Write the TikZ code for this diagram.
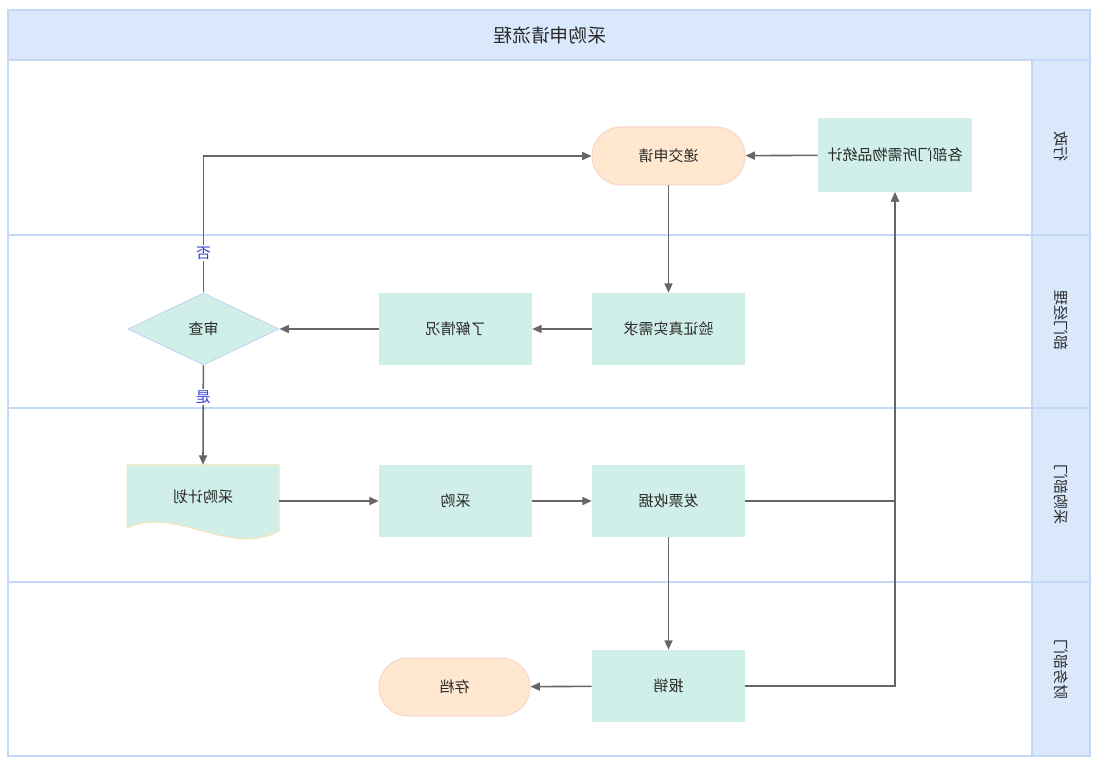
\documentclass[tikz,border=0pt]{standalone}
\usepackage{fontspec}
\usepackage{graphicx}
\usetikzlibrary{positioning, shapes.geometric, arrows.meta}
\newfontfamily\cjk{Noto Sans CJK SC}
\definecolor{lanebg}{HTML}{DAE8FC}
\definecolor{laneline}{HTML}{C4D7F5}
\definecolor{mint}{HTML}{D0EFE8}
\definecolor{peach}{HTML}{FFE8CF}
\definecolor{peachline}{HTML}{F9D3C8}
\definecolor{docline}{HTML}{F6E3B4}
\definecolor{flow}{HTML}{666666}
\definecolor{txt}{HTML}{2A2A2A}
\definecolor{yesno}{HTML}{3040D0}
% the reference is drawn mirrored, so every text is mirrored too
\newcommand{\mir}[1]{\scalebox{-1}[1]{#1}}

\begin{document}
\begin{tikzpicture}[
    x=0.75pt, y=-0.75pt,
    every node/.style={font=\cjk\fontsize{11.25}{13}\selectfont, text=txt, inner sep=0pt},
    task/.style={fill=mint, minimum width=114.75pt, minimum height=54pt},
    term/.style={fill=peach, draw=peachline, line width=0.75pt, rounded corners=21.75pt,
      minimum width=114.75pt, minimum height=43.5pt},
    check/.style={diamond, fill=mint, draw=laneline, line width=0.75pt,
      minimum width=113.25pt, minimum height=54pt},
    lanehead/.style={fill=lanebg, draw=laneline, line width=1pt},
    flowline/.style={draw=flow, line width=1.2pt, -{Triangle[length=7pt,width=6pt]}},
    cond/.style={fill=white, text=yesno, font=\cjk\fontsize{11}{13}\selectfont, inner sep=1pt}
  ]
  \useasboundingbox (0,0) rectangle (1100,766);

  % pool and lanes
  \draw[laneline, line width=1pt] (8,60) rectangle (1090,756);
  \draw[lanehead] (8,10) rectangle (1090,60);
  \draw[lanehead] (1032,60) rectangle (1090,756);
  \foreach \y in {235,408,582}
    \draw[laneline, line width=1.2pt] (8,\y) -- (1090,\y);
  \node[font=\cjk\fontsize{14}{16}\selectfont] (title) at (550,35) {\mir{采购申请流程}};
  \node[rotate=-90] (lane1) at (1061,147) {\mir{行政}};
  \node[rotate=-90] (lane2) at (1061,321) {\mir{部门经理}};
  \node[rotate=-90] (lane3) at (1061,495) {\mir{采购部门}};
  \node[rotate=-90] (lane4) at (1061,669) {\mir{财务部门}};

  % steps
  \node[term] (submit) at (668.5,156) {\mir{递交申请}};
  \node[task, minimum width=115.5pt, minimum height=55.5pt] (stat) at (895,155) {\mir{各部门所需物品统计}};
  \node[task] (verify) at (668.5,329) {\mir{验证真实需求}};
  \node[task] (learn) at (455.5,329) {\mir{了解情况}};
  \node[check] (review) at (203.5,329) {\mir{审查}};
  \draw[fill=mint, draw=docline, line width=0.75pt] (127,465) -- (279,465) -- (279,531)
    .. controls (230,558) and (175,505) .. (127,528) -- cycle;
  \node[minimum width=114pt, minimum height=48pt] (plan) at (203,497) {\mir{采购计划}};
  \node[task] (buy) at (455.5,501) {\mir{采购}};
  \node[task] (invoice) at (668.5,501) {\mir{发票收据}};
  \node[task] (reimb) at (668.5,686) {\mir{报销}};
  \node[term, minimum width=113.25pt] (archive) at (454.5,687) {\mir{存档}};

  % connectors
  \draw[flowline] (stat) -- (submit);
  \draw[flowline] (submit) -- (verify);
  \draw[flowline] (verify) -- (learn);
  \draw[flowline] (learn) -- (review);
  \draw[flowline] (review.north) |- node[cond, pos=0.145] {\mir{否}} (submit.west);
  \draw[flowline] (review) -- node[cond, pos=0.32] {\mir{是}} (plan.north);
  \draw[flowline] (plan.east |- buy) -- (buy);
  \draw[flowline] (buy) -- (invoice);
  \draw[flowline] (invoice) -| (stat);
  \draw[flowline] (invoice) -- (reimb);
  \draw[flowline] (reimb) -- (archive);
  \draw[flowline] (reimb) -| (stat);
\end{tikzpicture}
\end{document}
